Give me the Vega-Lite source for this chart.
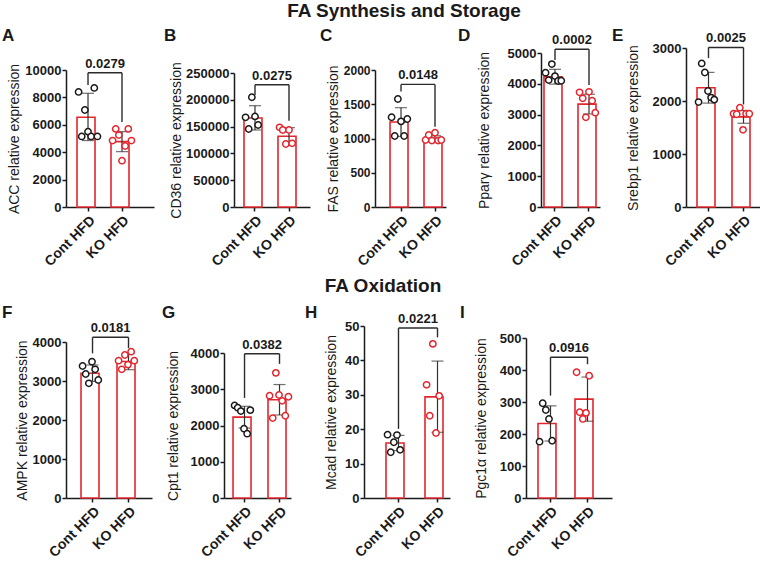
{
"$schema": "https://vega.github.io/schema/vega-lite/v6.json",
"padding": {"left": 2, "top": 2, "right": 0, "bottom": 0},
"config": {
 "font": "Liberation Sans",
 "view": {"stroke": null},
 "axis": {"domainColor": "#1a1a1a", "domainWidth": 1.5, "tickColor": "#1a1a1a", "tickWidth": 1.5, "tickSize": 4, "labelColor": "#1a1a1a", "labelFontWeight": "bold", "labelFontSize": 13, "titleFontSize": 14, "titleFontWeight": "normal", "titleColor": "#1a1a1a", "grid": false, "labelPadding": 1, "labelOverlap": false},
 "axisX": {"labelAngle": -45, "labelFontSize": 14, "labelPadding": 2},
 "title": {"fontSize": 17, "fontWeight": "bold", "color": "#1a1a1a"}
},
"datasets": {
 "A_bar": [{"group":"Cont HFD","value":6550},{"group":"KO HFD","value":4770}],
 "A_err": [{"group":"Cont HFD","value":4850,"end":8300},{"group":"KO HFD","value":4040,"end":5500}],
 "A_pts": [{"group":"Cont HFD","m":1,"value":8400},{"group":"Cont HFD","m":2,"value":5150},{"group":"Cont HFD","m":3,"value":7080},{"group":"Cont HFD","m":4,"value":5500},{"group":"Cont HFD","m":5,"value":5150},{"group":"Cont HFD","m":6,"value":8690},{"group":"Cont HFD","m":7,"value":5150},
           {"group":"KO HFD","m":1,"value":4850},{"group":"KO HFD","m":2,"value":5700},{"group":"KO HFD","m":3,"value":5250},{"group":"KO HFD","m":4,"value":3380},{"group":"KO HFD","m":5,"value":4450},{"group":"KO HFD","m":6,"value":5700},{"group":"KO HFD","m":7,"value":4850}],
 "A_leg": [{"group":"Cont HFD","value":9800,"end":8900},{"group":"KO HFD","value":9800,"end":6200}],
 "A_brk": [{"group":"Cont HFD","value":9800,"p":"0.0279"}],
 "B_bar": [{"group":"Cont HFD","value":166000},{"group":"KO HFD","value":131900}],
 "B_err": [{"group":"Cont HFD","value":143700,"end":189000},{"group":"KO HFD","value":116000,"end":148000}],
 "B_pts": [{"group":"Cont HFD","m":1,"value":167300},{"group":"Cont HFD","m":2,"value":145500},{"group":"Cont HFD","m":3,"value":204700},{"group":"Cont HFD","m":4,"value":169000},{"group":"Cont HFD","m":5,"value":153000},
           {"group":"KO HFD","m":1,"value":148700},{"group":"KO HFD","m":2,"value":143700},{"group":"KO HFD","m":3,"value":117500},{"group":"KO HFD","m":4,"value":143700},{"group":"KO HFD","m":5,"value":118800}],
 "B_leg": [{"group":"Cont HFD","value":228000,"end":209000},{"group":"KO HFD","value":228000,"end":161000}],
 "B_brk": [{"group":"Cont HFD","value":228000,"p":"0.0275"}],
 "C_bar": [{"group":"Cont HFD","value":1240},{"group":"KO HFD","value":990}],
 "C_err": [{"group":"Cont HFD","value":1030,"end":1450},{"group":"KO HFD","value":940,"end":1040}],
 "C_pts": [{"group":"Cont HFD","m":1,"value":1310},{"group":"Cont HFD","m":2,"value":1036},{"group":"Cont HFD","m":3,"value":1577},{"group":"Cont HFD","m":4,"value":1250},{"group":"Cont HFD","m":5,"value":1036},{"group":"Cont HFD","m":6,"value":1285},
           {"group":"KO HFD","m":1,"value":978},{"group":"KO HFD","m":2,"value":1051},{"group":"KO HFD","m":3,"value":970},{"group":"KO HFD","m":4,"value":1085},{"group":"KO HFD","m":5,"value":970},{"group":"KO HFD","m":6,"value":978}],
 "C_leg": [{"group":"Cont HFD","value":1790,"end":1685},{"group":"KO HFD","value":1790,"end":1170}],
 "C_brk": [{"group":"Cont HFD","value":1790,"p":"0.0148"}],
 "D_bar": [{"group":"Cont HFD","value":4230},{"group":"KO HFD","value":3340}],
 "D_err": [{"group":"Cont HFD","value":3990,"end":4470},{"group":"KO HFD","value":3020,"end":3660}],
 "D_pts": [{"group":"Cont HFD","m":1,"value":4360},{"group":"Cont HFD","m":2,"value":4120},{"group":"Cont HFD","m":3,"value":4640},{"group":"Cont HFD","m":4,"value":4250},{"group":"Cont HFD","m":5,"value":4090},{"group":"Cont HFD","m":6,"value":4100},
           {"group":"KO HFD","m":1,"value":3724},{"group":"KO HFD","m":2,"value":3529},{"group":"KO HFD","m":3,"value":2912},{"group":"KO HFD","m":4,"value":3740},{"group":"KO HFD","m":5,"value":3451},{"group":"KO HFD","m":6,"value":3062}],
 "D_leg": [{"group":"Cont HFD","value":5120,"end":4770},{"group":"KO HFD","value":5120,"end":3960}],
 "D_brk": [{"group":"Cont HFD","value":5120,"p":"0.0002"}],
 "E_bar": [{"group":"Cont HFD","value":2250},{"group":"KO HFD","value":1700}],
 "E_err": [{"group":"Cont HFD","value":1960,"end":2540},{"group":"KO HFD","value":1580,"end":1820}],
 "E_pts": [{"group":"Cont HFD","m":1,"value":1980},{"group":"Cont HFD","m":2,"value":2709},{"group":"Cont HFD","m":3,"value":2538},{"group":"Cont HFD","m":4,"value":2189},{"group":"Cont HFD","m":5,"value":2064},{"group":"Cont HFD","m":6,"value":2026},
           {"group":"KO HFD","m":1,"value":1760},{"group":"KO HFD","m":2,"value":1750},{"group":"KO HFD","m":3,"value":1874},{"group":"KO HFD","m":4,"value":1456},{"group":"KO HFD","m":5,"value":1760},{"group":"KO HFD","m":6,"value":1760}],
 "E_leg": [{"group":"Cont HFD","value":3010,"end":2810},{"group":"KO HFD","value":3010,"end":1935}],
 "E_brk": [{"group":"Cont HFD","value":3010,"p":"0.0025"}],
 "F_bar": [{"group":"Cont HFD","value":3200},{"group":"KO HFD","value":3500}],
 "F_err": [{"group":"Cont HFD","value":2990,"end":3410},{"group":"KO HFD","value":3290,"end":3710}],
 "F_pts": [{"group":"Cont HFD","m":1,"value":3385},{"group":"Cont HFD","m":2,"value":3180},{"group":"Cont HFD","m":3,"value":2941},{"group":"Cont HFD","m":4,"value":3495},{"group":"Cont HFD","m":5,"value":3300},{"group":"Cont HFD","m":6,"value":3026},
           {"group":"KO HFD","m":1,"value":3521},{"group":"KO HFD","m":2,"value":3300},{"group":"KO HFD","m":3,"value":3667},{"group":"KO HFD","m":4,"value":3420},{"group":"KO HFD","m":5,"value":3751},{"group":"KO HFD","m":6,"value":3521}],
 "F_leg": [{"group":"Cont HFD","value":4120,"end":3710},{"group":"KO HFD","value":4120,"end":3840}],
 "F_brk": [{"group":"Cont HFD","value":4120,"p":"0.0181"}],
 "G_bar": [{"group":"Cont HFD","value":2230},{"group":"KO HFD","value":2710}],
 "G_err": [{"group":"Cont HFD","value":1930,"end":2530},{"group":"KO HFD","value":2290,"end":3130}],
 "G_pts": [{"group":"Cont HFD","m":1,"value":2554},{"group":"Cont HFD","m":2,"value":2490},{"group":"Cont HFD","m":3,"value":2397},{"group":"Cont HFD","m":4,"value":1912},{"group":"Cont HFD","m":5,"value":1774},{"group":"Cont HFD","m":6,"value":2424},
           {"group":"KO HFD","m":1,"value":2822},{"group":"KO HFD","m":2,"value":2205},{"group":"KO HFD","m":3,"value":3452},{"group":"KO HFD","m":4,"value":2841},{"group":"KO HFD","m":5,"value":2680},{"group":"KO HFD","m":6,"value":2268},{"group":"KO HFD","m":7,"value":2794}],
 "G_leg": [{"group":"Cont HFD","value":3980,"end":2760},{"group":"KO HFD","value":3980,"end":3700}],
 "G_brk": [{"group":"Cont HFD","value":3980,"p":"0.0382"}],
 "H_bar": [{"group":"Cont HFD","value":16.0},{"group":"KO HFD","value":29.4}],
 "H_err": [{"group":"Cont HFD","value":13.8,"end":18.2},{"group":"KO HFD","value":19.1,"end":39.8}],
 "H_pts": [{"group":"Cont HFD","m":1,"value":18.4},{"group":"Cont HFD","m":2,"value":13.3},{"group":"Cont HFD","m":3,"value":16.2},{"group":"Cont HFD","m":4,"value":18.3},{"group":"Cont HFD","m":5,"value":14.0},
           {"group":"KO HFD","m":1,"value":32.9},{"group":"KO HFD","m":2,"value":23.9},{"group":"KO HFD","m":3,"value":44.8},{"group":"KO HFD","m":4,"value":18.9},{"group":"KO HFD","m":5,"value":29.7}],
 "H_leg": [{"group":"Cont HFD","value":49.4,"end":20.1},{"group":"KO HFD","value":49.4,"end":46.7}],
 "H_brk": [{"group":"Cont HFD","value":49.4,"p":"0.0221"}],
 "I_bar": [{"group":"Cont HFD","value":233},{"group":"KO HFD","value":309}],
 "I_err": [{"group":"Cont HFD","value":178,"end":288},{"group":"KO HFD","value":240,"end":378}],
 "I_pts": [{"group":"Cont HFD","m":1,"value":176},{"group":"Cont HFD","m":2,"value":296},{"group":"Cont HFD","m":3,"value":275},{"group":"Cont HFD","m":4,"value":247},{"group":"Cont HFD","m":5,"value":179},
           {"group":"KO HFD","m":1,"value":393},{"group":"KO HFD","m":2,"value":268},{"group":"KO HFD","m":3,"value":247},{"group":"KO HFD","m":4,"value":266},{"group":"KO HFD","m":5,"value":382}],
 "I_leg": [{"group":"Cont HFD","value":440,"end":320},{"group":"KO HFD","value":440,"end":418}],
 "I_brk": [{"group":"Cont HFD","value":440,"p":"0.0916"}]
},
"spacing": 8,
"vconcat": [
{
 "title": {"text": "FA Synthesis and Storage", "fontSize": 19, "anchor": "middle", "dx": 20, "offset": 6},
 "spacing": 10,
 "hconcat": [
 {"width": 88, "height": 179,
  "title": {"text": "A", "anchor": "start", "frame": "bounds", "dx": -5, "offset": -17},
  "encoding": {
   "x": {"field": "group", "type": "nominal", "scale": {"domain": ["Cont HFD", "KO HFD"], "paddingInner": 0.353, "paddingOuter": 0.471, "align": 0.344}, "axis": {"title": null}},
   "y": {"field": "value", "type": "quantitative", "scale": {"domain": [0, 10000], "range": [179, 42], "nice": false, "zero": false}, "axis": {"title": "ACC relative expression", "values": [0,2000,4000,6000,8000,10000], "format": "d", "minExtent": 43, "maxExtent": 43, "titlePadding": 2}}
  },
  "layer": [
   {"data": {"name": "A_bar"}, "mark": {"type": "bar", "fill": "white", "stroke": "#e3262d", "strokeWidth": 1.6}},
   {"data": {"name": "A_err"}, "mark": {"type": "errorbar", "color": "#333333", "thickness": 1.2, "ticks": {"size": 12, "thickness": 1.2, "color": "#333333"}}, "encoding": {"y2": {"field": "end"}}},
   {"data": {"name": "A_pts"}, "mark": {"type": "point", "shape": "circle", "filled": true, "fill": "white", "size": 40, "strokeWidth": 1.5, "opacity": 1},
    "encoding": {"xOffset": {"field": "m", "type": "ordinal"}, "stroke": {"field": "group", "type": "nominal", "scale": {"domain": ["Cont HFD", "KO HFD"], "range": ["#1a1a1a", "#e3262d"]}, "legend": null}}},
   {"data": {"name": "A_leg"}, "mark": {"type": "rule", "color": "#2b2b2b", "strokeWidth": 1.4}, "encoding": {"y2": {"field": "end"}}},
   {"data": {"name": "A_brk"}, "mark": {"type": "rule", "color": "#2b2b2b", "strokeWidth": 1.4}, "encoding": {"x2": {"datum": "KO HFD"}}},
   {"data": {"name": "A_brk"}, "mark": {"type": "text", "fontSize": 13, "fontWeight": "bold", "baseline": "bottom", "align": "center", "dy": -2, "dx": 17, "color": "#1a1a1a"}, "encoding": {"text": {"field": "p"}}}
  ]},
 {"width": 76, "height": 179,
  "title": {"text": "B", "anchor": "start", "frame": "bounds", "dx": -5, "offset": -17},
  "encoding": {
   "x": {"field": "group", "type": "nominal", "scale": {"domain": ["Cont HFD", "KO HFD"], "paddingInner": 0.353, "paddingOuter": 0.294, "align": 0.5}, "axis": {"title": null}},
   "y": {"field": "value", "type": "quantitative", "scale": {"domain": [0, 250000], "range": [179, 45], "nice": false, "zero": false}, "axis": {"title": "CD36 relative expression", "values": [0,50000,100000,150000,200000,250000], "format": "d", "minExtent": 47, "maxExtent": 47, "titlePadding": 4}}
  },
  "layer": [
   {"data": {"name": "B_bar"}, "mark": {"type": "bar", "fill": "white", "stroke": "#e3262d", "strokeWidth": 1.6}},
   {"data": {"name": "B_err"}, "mark": {"type": "errorbar", "color": "#333333", "thickness": 1.2, "ticks": {"size": 12, "thickness": 1.2, "color": "#333333"}}, "encoding": {"y2": {"field": "end"}}},
   {"data": {"name": "B_pts"}, "mark": {"type": "point", "shape": "circle", "filled": true, "fill": "white", "size": 40, "strokeWidth": 1.5, "opacity": 1},
    "encoding": {"xOffset": {"field": "m", "type": "ordinal"}, "stroke": {"field": "group", "type": "nominal", "scale": {"domain": ["Cont HFD", "KO HFD"], "range": ["#1a1a1a", "#e3262d"]}, "legend": null}}},
   {"data": {"name": "B_leg"}, "mark": {"type": "rule", "color": "#2b2b2b", "strokeWidth": 1.4}, "encoding": {"y2": {"field": "end"}}},
   {"data": {"name": "B_brk"}, "mark": {"type": "rule", "color": "#2b2b2b", "strokeWidth": 1.4}, "encoding": {"x2": {"datum": "KO HFD"}}},
   {"data": {"name": "B_brk"}, "mark": {"type": "text", "fontSize": 13, "fontWeight": "bold", "baseline": "bottom", "align": "center", "dy": -2, "dx": 17, "color": "#1a1a1a"}, "encoding": {"text": {"field": "p"}}}
  ]},
 {"width": 71, "height": 179,
  "title": {"text": "C", "anchor": "start", "frame": "bounds", "dx": -6, "offset": -17},
  "encoding": {
   "x": {"field": "group", "type": "nominal", "scale": {"domain": ["Cont HFD", "KO HFD"], "paddingInner": 0.353, "paddingOuter": 0.221, "align": 1}, "axis": {"title": null}},
   "y": {"field": "value", "type": "quantitative", "scale": {"domain": [0, 2000], "range": [179, 42], "nice": false, "zero": false}, "axis": {"title": "FAS relative expression", "values": [0,500,1000,1500,2000], "format": "d", "labelFontSize": 12, "minExtent": 31, "maxExtent": 31, "titlePadding": 4}}
  },
  "layer": [
   {"data": {"name": "C_bar"}, "mark": {"type": "bar", "fill": "white", "stroke": "#e3262d", "strokeWidth": 1.6}},
   {"data": {"name": "C_err"}, "mark": {"type": "errorbar", "color": "#333333", "thickness": 1.2, "ticks": {"size": 12, "thickness": 1.2, "color": "#333333"}}, "encoding": {"y2": {"field": "end"}}},
   {"data": {"name": "C_pts"}, "mark": {"type": "point", "shape": "circle", "filled": true, "fill": "white", "size": 40, "strokeWidth": 1.5, "opacity": 1},
    "encoding": {"xOffset": {"field": "m", "type": "ordinal"}, "stroke": {"field": "group", "type": "nominal", "scale": {"domain": ["Cont HFD", "KO HFD"], "range": ["#1a1a1a", "#e3262d"]}, "legend": null}}},
   {"data": {"name": "C_leg"}, "mark": {"type": "rule", "color": "#2b2b2b", "strokeWidth": 1.4}, "encoding": {"y2": {"field": "end"}}},
   {"data": {"name": "C_brk"}, "mark": {"type": "rule", "color": "#2b2b2b", "strokeWidth": 1.4}, "encoding": {"x2": {"datum": "KO HFD"}}},
   {"data": {"name": "C_brk"}, "mark": {"type": "text", "fontSize": 13, "fontWeight": "bold", "baseline": "bottom", "align": "center", "dy": -2, "dx": 17, "color": "#1a1a1a"}, "encoding": {"text": {"field": "p"}}}
  ]},
 {"width": 59, "height": 179,
  "title": {"text": "D", "anchor": "start", "frame": "bounds", "dx": -19, "offset": -17},
  "encoding": {
   "x": {"field": "group", "type": "nominal", "scale": {"domain": ["Cont HFD", "KO HFD"], "paddingInner": 0.353, "paddingOuter": 0.044, "align": 1}, "axis": {"title": null}},
   "y": {"field": "value", "type": "quantitative", "scale": {"domain": [0, 5000], "range": [179, 25], "nice": false, "zero": false}, "axis": {"title": "Pparγ relative expression", "values": [0,1000,2000,3000,4000,5000], "format": "d", "minExtent": 34, "maxExtent": 34, "titlePadding": 16}}
  },
  "layer": [
   {"data": {"name": "D_bar"}, "mark": {"type": "bar", "fill": "white", "stroke": "#e3262d", "strokeWidth": 1.6}},
   {"data": {"name": "D_err"}, "mark": {"type": "errorbar", "color": "#333333", "thickness": 1.2, "ticks": {"size": 12, "thickness": 1.2, "color": "#333333"}}, "encoding": {"y2": {"field": "end"}}},
   {"data": {"name": "D_pts"}, "mark": {"type": "point", "shape": "circle", "filled": true, "fill": "white", "size": 40, "strokeWidth": 1.5, "opacity": 1},
    "encoding": {"xOffset": {"field": "m", "type": "ordinal"}, "stroke": {"field": "group", "type": "nominal", "scale": {"domain": ["Cont HFD", "KO HFD"], "range": ["#1a1a1a", "#e3262d"]}, "legend": null}}},
   {"data": {"name": "D_leg"}, "mark": {"type": "rule", "color": "#2b2b2b", "strokeWidth": 1.4}, "encoding": {"y2": {"field": "end"}}},
   {"data": {"name": "D_brk"}, "mark": {"type": "rule", "color": "#2b2b2b", "strokeWidth": 1.4}, "encoding": {"x2": {"datum": "KO HFD"}}},
   {"data": {"name": "D_brk"}, "mark": {"type": "text", "fontSize": 13, "fontWeight": "bold", "baseline": "bottom", "align": "center", "dy": -2, "dx": 17, "color": "#1a1a1a"}, "encoding": {"text": {"field": "p"}}}
  ]},
 {"width": 80, "height": 179,
  "title": {"text": "E", "anchor": "start", "frame": "bounds", "dx": -14, "offset": -17},
  "encoding": {
   "x": {"field": "group", "type": "nominal", "scale": {"domain": ["Cont HFD", "KO HFD"], "paddingInner": 0.343, "paddingOuter": 0.314, "align": 0.5}, "axis": {"title": null}},
   "y": {"field": "value", "type": "quantitative", "scale": {"domain": [0, 3000], "range": [179, 20], "nice": false, "zero": false}, "axis": {"title": "Srebp1 relative expression", "values": [0,1000,2000,3000], "format": "d", "minExtent": 34, "maxExtent": 34, "titlePadding": 12}}
  },
  "layer": [
   {"data": {"name": "E_bar"}, "mark": {"type": "bar", "fill": "white", "stroke": "#e3262d", "strokeWidth": 1.6}},
   {"data": {"name": "E_err"}, "mark": {"type": "errorbar", "color": "#333333", "thickness": 1.2, "ticks": {"size": 12, "thickness": 1.2, "color": "#333333"}}, "encoding": {"y2": {"field": "end"}}},
   {"data": {"name": "E_pts"}, "mark": {"type": "point", "shape": "circle", "filled": true, "fill": "white", "size": 40, "strokeWidth": 1.5, "opacity": 1},
    "encoding": {"xOffset": {"field": "m", "type": "ordinal"}, "stroke": {"field": "group", "type": "nominal", "scale": {"domain": ["Cont HFD", "KO HFD"], "range": ["#1a1a1a", "#e3262d"]}, "legend": null}}},
   {"data": {"name": "E_leg"}, "mark": {"type": "rule", "color": "#2b2b2b", "strokeWidth": 1.4}, "encoding": {"y2": {"field": "end"}}},
   {"data": {"name": "E_brk"}, "mark": {"type": "rule", "color": "#2b2b2b", "strokeWidth": 1.4}, "encoding": {"x2": {"datum": "KO HFD"}}},
   {"data": {"name": "E_brk"}, "mark": {"type": "text", "fontSize": 13, "fontWeight": "bold", "baseline": "bottom", "align": "center", "dy": -2, "dx": 17.5, "color": "#1a1a1a"}, "encoding": {"text": {"field": "p"}}}
  ]}
 ]
},
{
 "title": {"text": "FA Oxidation", "fontSize": 19, "anchor": "middle", "dx": 76, "offset": 8},
 "spacing": 10,
 "hconcat": [
 {"width": 86, "height": 191,
  "title": {"text": "F", "anchor": "start", "frame": "bounds", "dx": -13, "offset": -15},
  "encoding": {
   "x": {"field": "group", "type": "nominal", "scale": {"domain": ["Cont HFD", "KO HFD"], "paddingInner": 0.361, "paddingOuter": 0.375, "align": 0.556}, "axis": {"title": null}},
   "y": {"field": "value", "type": "quantitative", "scale": {"domain": [0, 4000], "range": [191, 35], "nice": false, "zero": false}, "axis": {"title": "AMPK relative expression", "values": [0,1000,2000,3000,4000], "format": "d", "minExtent": 34, "maxExtent": 34, "titlePadding": 3}}
  },
  "layer": [
   {"data": {"name": "F_bar"}, "mark": {"type": "bar", "fill": "white", "stroke": "#e3262d", "strokeWidth": 1.6}},
   {"data": {"name": "F_err"}, "mark": {"type": "errorbar", "color": "#333333", "thickness": 1.2, "ticks": {"size": 12, "thickness": 1.2, "color": "#333333"}}, "encoding": {"y2": {"field": "end"}}},
   {"data": {"name": "F_pts"}, "mark": {"type": "point", "shape": "circle", "filled": true, "fill": "white", "size": 40, "strokeWidth": 1.5, "opacity": 1},
    "encoding": {"xOffset": {"field": "m", "type": "ordinal"}, "stroke": {"field": "group", "type": "nominal", "scale": {"domain": ["Cont HFD", "KO HFD"], "range": ["#1a1a1a", "#e3262d"]}, "legend": null}}},
   {"data": {"name": "F_leg"}, "mark": {"type": "rule", "color": "#2b2b2b", "strokeWidth": 1.4}, "encoding": {"y2": {"field": "end"}}},
   {"data": {"name": "F_brk"}, "mark": {"type": "rule", "color": "#2b2b2b", "strokeWidth": 1.4}, "encoding": {"x2": {"datum": "KO HFD"}}},
   {"data": {"name": "F_brk"}, "mark": {"type": "text", "fontSize": 13, "fontWeight": "bold", "baseline": "bottom", "align": "center", "dy": -2, "dx": 18, "color": "#1a1a1a"}, "encoding": {"text": {"field": "p"}}}
  ]},
 {"width": 67, "height": 191,
  "title": {"text": "G", "anchor": "start", "frame": "bounds", "dx": -4, "offset": -15},
  "encoding": {
   "x": {"field": "group", "type": "nominal", "scale": {"domain": ["Cont HFD", "KO HFD"], "paddingInner": 0.343, "paddingOuter": 0.129, "align": 1}, "axis": {"title": null}},
   "y": {"field": "value", "type": "quantitative", "scale": {"domain": [0, 4000], "range": [191, 46], "nice": false, "zero": false}, "axis": {"title": "Cpt1 relative expression", "values": [0,1000,2000,3000,4000], "format": "d", "minExtent": 34, "maxExtent": 34, "titlePadding": 10}}
  },
  "layer": [
   {"data": {"name": "G_bar"}, "mark": {"type": "bar", "fill": "white", "stroke": "#e3262d", "strokeWidth": 1.6}},
   {"data": {"name": "G_err"}, "mark": {"type": "errorbar", "color": "#333333", "thickness": 1.2, "ticks": {"size": 12, "thickness": 1.2, "color": "#333333"}}, "encoding": {"y2": {"field": "end"}}},
   {"data": {"name": "G_pts"}, "mark": {"type": "point", "shape": "circle", "filled": true, "fill": "white", "size": 40, "strokeWidth": 1.5, "opacity": 1},
    "encoding": {"xOffset": {"field": "m", "type": "ordinal"}, "stroke": {"field": "group", "type": "nominal", "scale": {"domain": ["Cont HFD", "KO HFD"], "range": ["#1a1a1a", "#e3262d"]}, "legend": null}}},
   {"data": {"name": "G_leg"}, "mark": {"type": "rule", "color": "#2b2b2b", "strokeWidth": 1.4}, "encoding": {"y2": {"field": "end"}}},
   {"data": {"name": "G_brk"}, "mark": {"type": "rule", "color": "#2b2b2b", "strokeWidth": 1.4}, "encoding": {"x2": {"datum": "KO HFD"}}},
   {"data": {"name": "G_brk"}, "mark": {"type": "text", "fontSize": 13, "fontWeight": "bold", "baseline": "bottom", "align": "center", "dy": -2, "dx": 17.5, "color": "#1a1a1a"}, "encoding": {"text": {"field": "p"}}}
  ]},
 {"width": 86, "height": 191,
  "title": {"text": "H", "anchor": "start", "frame": "bounds", "dx": -19, "offset": -15},
  "encoding": {
   "x": {"field": "group", "type": "nominal", "scale": {"domain": ["Cont HFD", "KO HFD"], "paddingInner": 0.359, "paddingOuter": 0.282, "align": 1}, "axis": {"title": null}},
   "y": {"field": "value", "type": "quantitative", "scale": {"domain": [0, 50], "range": [191, 19], "nice": false, "zero": false}, "axis": {"title": "Mcad relative expression", "values": [0,10,20,30,40,50], "format": "d", "minExtent": 20, "maxExtent": 20, "titlePadding": 6}}
  },
  "layer": [
   {"data": {"name": "H_bar"}, "mark": {"type": "bar", "fill": "white", "stroke": "#e3262d", "strokeWidth": 1.6}},
   {"data": {"name": "H_err"}, "mark": {"type": "errorbar", "color": "#333333", "thickness": 1.2, "ticks": {"size": 12, "thickness": 1.2, "color": "#333333"}}, "encoding": {"y2": {"field": "end"}}},
   {"data": {"name": "H_pts"}, "mark": {"type": "point", "shape": "circle", "filled": true, "fill": "white", "size": 40, "strokeWidth": 1.5, "opacity": 1},
    "encoding": {"xOffset": {"field": "m", "type": "ordinal"}, "stroke": {"field": "group", "type": "nominal", "scale": {"domain": ["Cont HFD", "KO HFD"], "range": ["#1a1a1a", "#e3262d"]}, "legend": null}}},
   {"data": {"name": "H_leg"}, "mark": {"type": "rule", "color": "#2b2b2b", "strokeWidth": 1.4}, "encoding": {"y2": {"field": "end"}}},
   {"data": {"name": "H_brk"}, "mark": {"type": "rule", "color": "#2b2b2b", "strokeWidth": 1.4}, "encoding": {"x2": {"datum": "KO HFD"}}},
   {"data": {"name": "H_brk"}, "mark": {"type": "text", "fontSize": 13, "fontWeight": "bold", "baseline": "bottom", "align": "center", "dy": -2, "dx": 19.5, "color": "#1a1a1a"}, "encoding": {"text": {"field": "p"}}}
  ]},
 {"width": 86, "height": 191,
  "title": {"text": "I", "anchor": "start", "frame": "bounds", "dx": -14, "offset": -15},
  "encoding": {
   "x": {"field": "group", "type": "nominal", "scale": {"domain": ["Cont HFD", "KO HFD"], "paddingInner": 0.324, "paddingOuter": 0.324, "align": 0.5}, "axis": {"title": null}},
   "y": {"field": "value", "type": "quantitative", "scale": {"domain": [0, 500], "range": [191, 31], "nice": false, "zero": false}, "axis": {"title": "Pgc1α relative expression", "values": [0,100,200,300,400,500], "format": "d", "minExtent": 27, "maxExtent": 27, "titlePadding": 11}}
  },
  "layer": [
   {"data": {"name": "I_bar"}, "mark": {"type": "bar", "fill": "white", "stroke": "#e3262d", "strokeWidth": 1.6}},
   {"data": {"name": "I_err"}, "mark": {"type": "errorbar", "color": "#333333", "thickness": 1.2, "ticks": {"size": 12, "thickness": 1.2, "color": "#333333"}}, "encoding": {"y2": {"field": "end"}}},
   {"data": {"name": "I_pts"}, "mark": {"type": "point", "shape": "circle", "filled": true, "fill": "white", "size": 40, "strokeWidth": 1.5, "opacity": 1},
    "encoding": {"xOffset": {"field": "m", "type": "ordinal"}, "stroke": {"field": "group", "type": "nominal", "scale": {"domain": ["Cont HFD", "KO HFD"], "range": ["#1a1a1a", "#e3262d"]}, "legend": null}}},
   {"data": {"name": "I_leg"}, "mark": {"type": "rule", "color": "#2b2b2b", "strokeWidth": 1.4}, "encoding": {"y2": {"field": "end"}}},
   {"data": {"name": "I_brk"}, "mark": {"type": "rule", "color": "#2b2b2b", "strokeWidth": 1.4}, "encoding": {"x2": {"datum": "KO HFD"}}},
   {"data": {"name": "I_brk"}, "mark": {"type": "text", "fontSize": 13, "fontWeight": "bold", "baseline": "bottom", "align": "center", "dy": -2, "dx": 18.5, "color": "#1a1a1a"}, "encoding": {"text": {"field": "p"}}}
  ]}
 ]
}
]
}
